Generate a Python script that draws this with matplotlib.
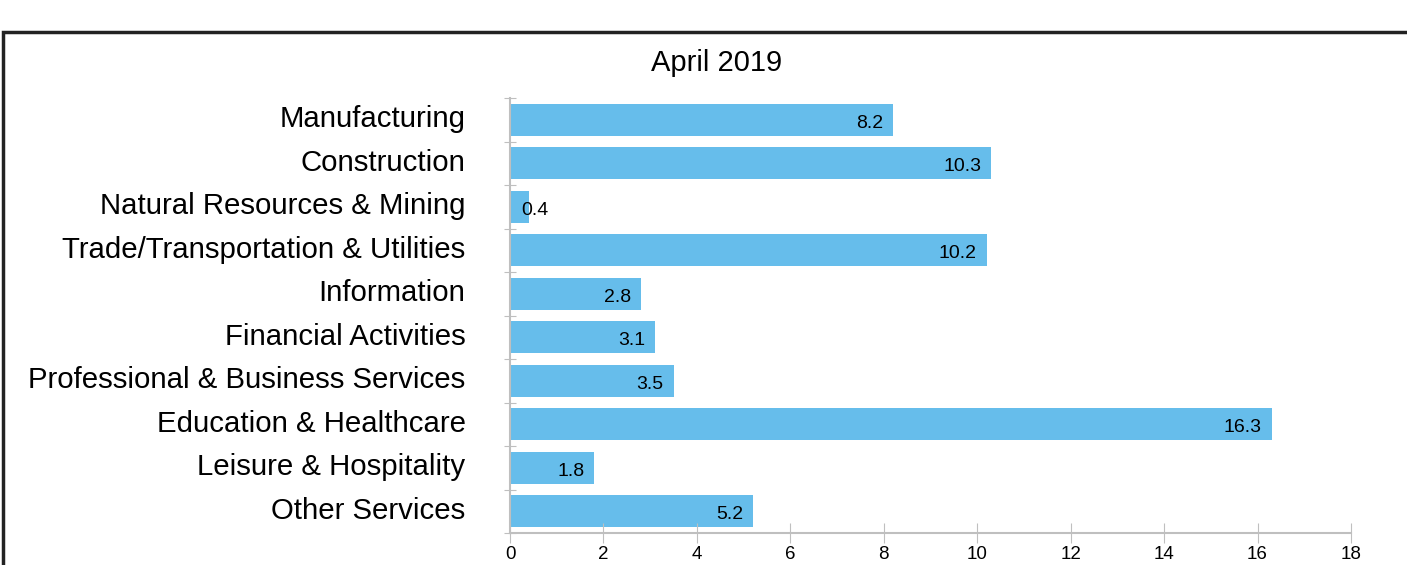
import numpy as np
import matplotlib.pyplot as plt
from matplotlib.patches import Rectangle
from matplotlib.transforms import offset_copy

plt.rcParams['font.family'] = ['Liberation Sans', 'DejaVu Sans']

# data
industries = ["Manufacturing", "Construction", "Natural Resources & Mining",
              "Trade/Transportation & Utilities", "Information", "Financial Activities",
              "Professional & Business Services", "Education & Healthcare",
              "Leisure & Hospitality", "Other Services"]
values = [8.2, 10.3, 0.4, 10.2, 2.8, 3.1, 3.5, 16.3, 1.8, 5.2]
x_ticks = [0, 2, 4, 6, 8, 10, 12, 14, 16, 18]

fig = plt.figure(figsize=(14.07, 5.65), dpi=100)
ax = fig.add_axes([0.3625, 0.0566, 0.5977, 0.7699])

y = np.arange(len(industries))
ax.barh(y, values, height=0.74, color='#66bdeb')
ax.set_ylim(len(industries) - 0.5, -0.5)
ax.set_xlim(0, 18)

inside = offset_copy(ax.transData, fig=fig, x=-10, y=0, units='dots')
outside = offset_copy(ax.transData, fig=fig, x=-7, y=0, units='dots')
for yi, v in zip(y, values):
    if v < 1:
        ax.text(v, yi + 0.08, f"{v}", ha='left', va='center', fontsize=14,
                transform=outside)
    else:
        ax.text(v, yi + 0.08, f"{v}", ha='right', va='center', fontsize=14,
                transform=inside)

# category labels as text, ticks at band boundaries
ax.set_yticks(np.arange(-0.5, len(industries)), labels=[])
ax.set_yticks(y - 0.08, labels=industries, minor=True)
ax.tick_params(axis='y', which='minor', length=0, pad=32, labelsize=21.2)
ax.tick_params(axis='y', which='major', direction='inout', length=8, color='#bfbfbf')
ax.set_xticks(x_ticks)
ax.tick_params(axis='x', direction='inout', length=14, color='#bfbfbf', labelsize=13.5, pad=2)

for s in ['top', 'right']:
    ax.spines[s].set_visible(False)
for s in ['left', 'bottom']:
    ax.spines[s].set_color('#bfbfbf')
    ax.spines[s].set_linewidth(1.5)

fig.text(0.509, 0.888, "April 2019", ha='center', va='center', fontsize=21)

# outer frame
fig.patches.append(Rectangle((3 / 1407, -0.1), 1.1, (565 - 32) / 565 + 0.1,
                             transform=fig.transFigure, fill=False,
                             edgecolor='#222222', linewidth=2.5))

plt.savefig("out.png", dpi=100)
